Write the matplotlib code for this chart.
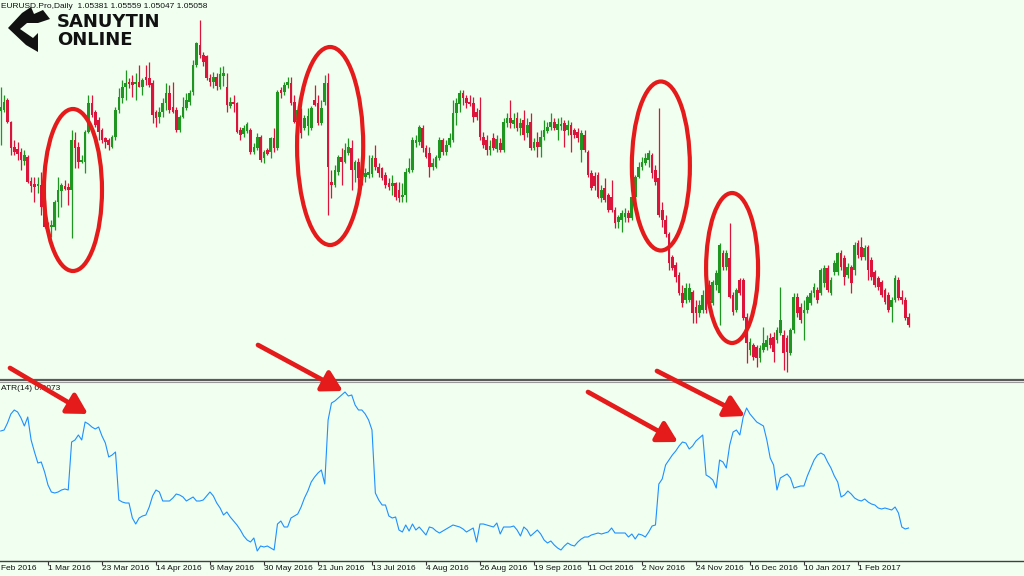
import numpy as np
import matplotlib
matplotlib.use("Agg")
import matplotlib.pyplot as plt
from matplotlib.patches import Ellipse, Polygon, FancyArrowPatch

# EURUSD daily candles; bar 0 = 8 Feb 2016, first visible bar = 2
first_bar = 2
opens = [
    1.1346, 1.1350, 1.1390, 1.1302, 1.1202, 1.1194, 1.1182, 1.1146, 1.1162, 1.1066,
    1.1054, 1.1046, 1.1050, 1.0978, 1.0898, 1.0882, 1.0882, 1.0982, 1.1026, 1.1046,
    1.1042, 1.1030, 1.1230, 1.1202, 1.1142, 1.1142, 1.1262, 1.1378, 1.1342, 1.1310,
    1.1270, 1.1238, 1.1230, 1.1202, 1.1242, 1.1350, 1.1398, 1.1442, 1.1462, 1.1462,
    1.1454, 1.1462, 1.1442, 1.1482, 1.1478, 1.1458, 1.1342, 1.1322, 1.1342, 1.1378,
    1.1418, 1.1362, 1.1350, 1.1270, 1.1322, 1.1358, 1.1382, 1.1422, 1.1530, 1.1610,
    1.1570, 1.1566, 1.1478, 1.1462, 1.1482, 1.1442, 1.1486, 1.1442, 1.1366, 1.1382,
    1.1378, 1.1270, 1.1254, 1.1266, 1.1270, 1.1182, 1.1198, 1.1242, 1.1158, 1.1190,
    1.1182, 1.1238, 1.1198, 1.1430, 1.1422, 1.1450, 1.1458, 1.1382, 1.1310, 1.1350,
    1.1278, 1.1286, 1.1278, 1.1390, 1.1378, 1.1298, 1.1382, 1.1458, 1.1062, 1.1050,
    1.1102, 1.1162, 1.1142, 1.1178, 1.1198, 1.1110, 1.1142, 1.1102, 1.1082, 1.1090,
    1.1094, 1.1158, 1.1122, 1.1118, 1.1090, 1.1058, 1.1046, 1.1058, 1.1030, 1.1002,
    1.1010, 1.1102, 1.1110, 1.1218, 1.1222, 1.1278, 1.1198, 1.1178, 1.1122, 1.1122,
    1.1158, 1.1230, 1.1182, 1.1210, 1.1230, 1.1338, 1.1374, 1.1418, 1.1398, 1.1382,
    1.1378, 1.1342, 1.1350, 1.1242, 1.1230, 1.1190, 1.1238, 1.1194, 1.1218, 1.1190,
    1.1298, 1.1318, 1.1294, 1.1318, 1.1278, 1.1310, 1.1258, 1.1302, 1.1198, 1.1222,
    1.1202, 1.1242, 1.1266, 1.1282, 1.1302, 1.1270, 1.1286, 1.1298, 1.1270, 1.1290,
    1.1270, 1.1262, 1.1190, 1.1250, 1.1182, 1.1098, 1.1086, 1.1090, 1.0998, 1.1038,
    1.1010, 1.1002, 1.0950, 1.0902, 1.0910, 1.0922, 1.0938, 1.0918, 1.1002, 1.1082,
    1.1122, 1.1138, 1.1150, 1.1170, 1.1110, 1.1078, 1.0950, 1.0910, 1.0854, 1.0762,
    1.0730, 1.0690, 1.0618, 1.0590, 1.0590, 1.0622, 1.0562, 1.0538, 1.0550, 1.0642,
    1.0650, 1.0578, 1.0650, 1.0618, 1.0778, 1.0722, 1.0758, 1.0610, 1.0550, 1.0670,
    1.0670, 1.0522, 1.0390, 1.0410, 1.0402, 1.0358, 1.0390, 1.0402, 1.0438, 1.0442,
    1.0430, 1.0458, 1.0450, 1.0438, 1.0378, 1.0470, 1.0602, 1.0562, 1.0538, 1.0550,
    1.0578, 1.0618, 1.0630, 1.0618, 1.0658, 1.0718, 1.0618, 1.0702, 1.0702, 1.0778,
    1.0758, 1.0690, 1.0722, 1.0710, 1.0818, 1.0802, 1.0762, 1.0802, 1.0750, 1.0702,
    1.0678, 1.0662, 1.0630, 1.0610, 1.0562, 1.0590, 1.0670, 1.0602, 1.0590, 1.0522,
]
highs = [
    1.1442, 1.1410, 1.1398, 1.1306, 1.1230, 1.1222, 1.1198, 1.1190, 1.1170, 1.1082,
    1.1082, 1.1082, 1.1102, 1.0990, 1.0902, 1.0910, 1.0990, 1.1082, 1.1058, 1.1070,
    1.1058, 1.1270, 1.1262, 1.1222, 1.1170, 1.1270, 1.1410, 1.1410, 1.1350, 1.1322,
    1.1278, 1.1242, 1.1238, 1.1250, 1.1362, 1.1438, 1.1470, 1.1510, 1.1478, 1.1490,
    1.1498, 1.1530, 1.1478, 1.1530, 1.1542, 1.1470, 1.1350, 1.1362, 1.1398, 1.1458,
    1.1450, 1.1462, 1.1362, 1.1330, 1.1402, 1.1418, 1.1430, 1.1550, 1.1622, 1.1710,
    1.1582, 1.1570, 1.1494, 1.1502, 1.1498, 1.1522, 1.1526, 1.1498, 1.1402, 1.1410,
    1.1382, 1.1282, 1.1290, 1.1302, 1.1278, 1.1218, 1.1258, 1.1250, 1.1190, 1.1198,
    1.1242, 1.1278, 1.1430, 1.1442, 1.1462, 1.1482, 1.1482, 1.1410, 1.1370, 1.1358,
    1.1330, 1.1358, 1.1366, 1.1450, 1.1410, 1.1390, 1.1490, 1.1498, 1.1110, 1.1130,
    1.1170, 1.1198, 1.1218, 1.1238, 1.1230, 1.1150, 1.1158, 1.1118, 1.1118, 1.1170,
    1.1170, 1.1210, 1.1138, 1.1122, 1.1102, 1.1078, 1.1090, 1.1062, 1.1062, 1.1058,
    1.1118, 1.1158, 1.1242, 1.1250, 1.1290, 1.1290, 1.1210, 1.1202, 1.1158, 1.1170,
    1.1242, 1.1238, 1.1230, 1.1258, 1.1390, 1.1398, 1.1430, 1.1430, 1.1410, 1.1410,
    1.1402, 1.1358, 1.1402, 1.1262, 1.1250, 1.1230, 1.1258, 1.1250, 1.1238, 1.1318,
    1.1338, 1.1390, 1.1338, 1.1342, 1.1318, 1.1350, 1.1318, 1.1338, 1.1238, 1.1262,
    1.1270, 1.1310, 1.1302, 1.1338, 1.1318, 1.1318, 1.1322, 1.1310, 1.1310, 1.1302,
    1.1278, 1.1278, 1.1270, 1.1270, 1.1190, 1.1110, 1.1102, 1.1102, 1.1050, 1.1078,
    1.1018, 1.1070, 1.0962, 1.0930, 1.0950, 1.0958, 1.0950, 1.1018, 1.1090, 1.1142,
    1.1162, 1.1178, 1.1190, 1.1178, 1.1130, 1.1358, 1.0982, 1.0930, 1.0862, 1.0770,
    1.0742, 1.0702, 1.0650, 1.0658, 1.0658, 1.0630, 1.0590, 1.0590, 1.0630, 1.0658,
    1.0670, 1.0670, 1.0710, 1.0818, 1.0790, 1.0790, 1.0898, 1.0622, 1.0638, 1.0678,
    1.0678, 1.0538, 1.0438, 1.0418, 1.0410, 1.0410, 1.0482, 1.0450, 1.0458, 1.0462,
    1.0482, 1.0642, 1.0470, 1.0450, 1.0478, 1.0618, 1.0618, 1.0578, 1.0590, 1.0610,
    1.0630, 1.0658, 1.0642, 1.0718, 1.0730, 1.0730, 1.0682, 1.0750, 1.0782, 1.0790,
    1.0770, 1.0738, 1.0730, 1.0822, 1.0830, 1.0842, 1.0810, 1.0810, 1.0762, 1.0710,
    1.0686, 1.0670, 1.0638, 1.0622, 1.0602, 1.0690, 1.0682, 1.0630, 1.0602, 1.0538,
]
lows = [
    1.1210, 1.1342, 1.1298, 1.1170, 1.1170, 1.1150, 1.1110, 1.1130, 1.1058, 1.1022,
    1.0982, 1.1018, 1.0930, 1.0878, 1.0862, 1.0842, 1.0870, 1.0922, 1.0962, 1.1030,
    1.0970, 1.0838, 1.1118, 1.1118, 1.1138, 1.1098, 1.1258, 1.1322, 1.1282, 1.1230,
    1.1218, 1.1198, 1.1190, 1.1198, 1.1230, 1.1338, 1.1378, 1.1390, 1.1438, 1.1402,
    1.1390, 1.1442, 1.1410, 1.1450, 1.1442, 1.1298, 1.1282, 1.1298, 1.1322, 1.1350,
    1.1338, 1.1338, 1.1262, 1.1262, 1.1318, 1.1350, 1.1370, 1.1410, 1.1522, 1.1558,
    1.1526, 1.1470, 1.1446, 1.1438, 1.1430, 1.1434, 1.1446, 1.1342, 1.1358, 1.1342,
    1.1258, 1.1230, 1.1242, 1.1258, 1.1174, 1.1174, 1.1190, 1.1142, 1.1138, 1.1170,
    1.1158, 1.1182, 1.1190, 1.1398, 1.1410, 1.1438, 1.1370, 1.1298, 1.1290, 1.1238,
    1.1270, 1.1250, 1.1270, 1.1366, 1.1290, 1.1290, 1.1370, 1.0930, 1.0998, 1.1042,
    1.1090, 1.1050, 1.1138, 1.1170, 1.1030, 1.1062, 1.1030, 1.1050, 1.1062, 1.1078,
    1.1082, 1.1110, 1.1082, 1.1070, 1.1038, 1.1030, 1.1010, 1.0990, 1.0982, 1.0982,
    1.0982, 1.1098, 1.1102, 1.1202, 1.1210, 1.1182, 1.1158, 1.1082, 1.1110, 1.1118,
    1.1150, 1.1170, 1.1170, 1.1202, 1.1222, 1.1290, 1.1342, 1.1370, 1.1358, 1.1366,
    1.1302, 1.1310, 1.1230, 1.1198, 1.1170, 1.1170, 1.1190, 1.1182, 1.1182, 1.1182,
    1.1282, 1.1278, 1.1278, 1.1266, 1.1250, 1.1230, 1.1242, 1.1190, 1.1190, 1.1162,
    1.1162, 1.1230, 1.1258, 1.1270, 1.1270, 1.1230, 1.1270, 1.1202, 1.1250, 1.1182,
    1.1238, 1.1222, 1.1142, 1.1182, 1.1082, 1.1030, 1.1030, 1.0998, 1.0982, 1.0982,
    1.0942, 1.0942, 1.0878, 1.0878, 1.0862, 1.0902, 1.0902, 1.0910, 1.0990, 1.1078,
    1.1110, 1.1130, 1.1122, 1.1078, 1.1050, 1.0922, 1.0882, 1.0842, 1.0710, 1.0710,
    1.0662, 1.0610, 1.0562, 1.0578, 1.0582, 1.0498, 1.0498, 1.0522, 1.0538, 1.0538,
    1.0578, 1.0570, 1.0630, 1.0490, 1.0710, 1.0710, 1.0598, 1.0530, 1.0542, 1.0610,
    1.0510, 1.0338, 1.0370, 1.0350, 1.0322, 1.0342, 1.0382, 1.0390, 1.0398, 1.0342,
    1.0418, 1.0450, 1.0310, 1.0302, 1.0370, 1.0458, 1.0522, 1.0498, 1.0430, 1.0538,
    1.0570, 1.0602, 1.0578, 1.0610, 1.0642, 1.0622, 1.0610, 1.0690, 1.0690, 1.0710,
    1.0650, 1.0678, 1.0618, 1.0690, 1.0758, 1.0750, 1.0750, 1.0670, 1.0670, 1.0642,
    1.0630, 1.0602, 1.0574, 1.0542, 1.0502, 1.0582, 1.0590, 1.0574, 1.0510, 1.0482,
]
closes = [
    1.1362, 1.1382, 1.1302, 1.1198, 1.1182, 1.1174, 1.1150, 1.1170, 1.1062, 1.1046,
    1.1042, 1.1054, 1.0962, 1.0882, 1.0878, 1.0890, 1.0982, 1.1030, 1.1050, 1.1034,
    1.1030, 1.1230, 1.1198, 1.1142, 1.1150, 1.1262, 1.1378, 1.1330, 1.1290, 1.1262,
    1.1230, 1.1222, 1.1210, 1.1242, 1.1350, 1.1402, 1.1442, 1.1458, 1.1454, 1.1450,
    1.1462, 1.1442, 1.1470, 1.1470, 1.1450, 1.1330, 1.1318, 1.1342, 1.1378, 1.1418,
    1.1350, 1.1342, 1.1270, 1.1322, 1.1362, 1.1390, 1.1418, 1.1530, 1.1618, 1.1570,
    1.1542, 1.1478, 1.1462, 1.1482, 1.1446, 1.1494, 1.1498, 1.1370, 1.1382, 1.1374,
    1.1262, 1.1250, 1.1278, 1.1294, 1.1182, 1.1202, 1.1242, 1.1150, 1.1182, 1.1174,
    1.1238, 1.1198, 1.1422, 1.1418, 1.1450, 1.1462, 1.1378, 1.1302, 1.1350, 1.1258,
    1.1318, 1.1326, 1.1358, 1.1370, 1.1298, 1.1358, 1.1458, 1.1122, 1.1050, 1.1110,
    1.1162, 1.1142, 1.1190, 1.1202, 1.1110, 1.1142, 1.1078, 1.1082, 1.1098, 1.1102,
    1.1158, 1.1122, 1.1098, 1.1078, 1.1050, 1.1042, 1.1058, 1.1002, 1.0998, 1.1010,
    1.1102, 1.1118, 1.1230, 1.1230, 1.1282, 1.1198, 1.1162, 1.1122, 1.1138, 1.1162,
    1.1230, 1.1182, 1.1210, 1.1238, 1.1338, 1.1378, 1.1418, 1.1398, 1.1378, 1.1374,
    1.1322, 1.1322, 1.1242, 1.1210, 1.1190, 1.1206, 1.1198, 1.1234, 1.1190, 1.1302,
    1.1318, 1.1298, 1.1310, 1.1278, 1.1298, 1.1250, 1.1290, 1.1198, 1.1222, 1.1202,
    1.1242, 1.1270, 1.1282, 1.1302, 1.1278, 1.1294, 1.1294, 1.1266, 1.1290, 1.1250,
    1.1250, 1.1238, 1.1258, 1.1190, 1.1090, 1.1038, 1.1046, 1.1002, 1.1030, 1.0990,
    1.0950, 1.0950, 1.0898, 1.0922, 1.0938, 1.0938, 1.0918, 1.1002, 1.1082, 1.1122,
    1.1142, 1.1158, 1.1178, 1.1098, 1.1062, 1.0930, 1.0910, 1.0854, 1.0738, 1.0718,
    1.0682, 1.0618, 1.0578, 1.0638, 1.0638, 1.0538, 1.0538, 1.0570, 1.0610, 1.0550,
    1.0590, 1.0662, 1.0698, 1.0810, 1.0722, 1.0778, 1.0602, 1.0542, 1.0630, 1.0618,
    1.0518, 1.0418, 1.0422, 1.0362, 1.0358, 1.0398, 1.0418, 1.0430, 1.0410, 1.0382,
    1.0470, 1.0510, 1.0378, 1.0382, 1.0470, 1.0602, 1.0538, 1.0510, 1.0550, 1.0602,
    1.0618, 1.0642, 1.0590, 1.0710, 1.0718, 1.0630, 1.0670, 1.0738, 1.0778, 1.0722,
    1.0682, 1.0722, 1.0658, 1.0810, 1.0770, 1.0762, 1.0798, 1.0710, 1.0682, 1.0650,
    1.0642, 1.0610, 1.0582, 1.0550, 1.0590, 1.0678, 1.0598, 1.0590, 1.0518, 1.0490,
]
# ATR(14), in pips
atr14_pips = [
    121.5, 122, 125.5, 130, 132, 131, 128, 124, 128.5, 117,
    111, 105.5, 106, 101, 94.5, 91, 90.5, 91, 92, 92.5,
    92, 116, 117, 119.5, 117, 126, 125, 123.5, 122.5, 123.5,
    119, 115.5, 108.5, 109.5, 111, 87, 86, 85.5, 85.5, 78,
    75, 78, 79, 79.5, 83.5, 89, 92, 91, 86.5, 86.5,
    86.5, 88, 90, 89.5, 88.5, 86.5, 87.5, 88.5, 86.5, 86.5,
    87, 89, 91, 89, 85.5, 83, 79.5, 81, 78.5, 76.5,
    74.5, 72, 69, 67, 66, 68, 61.5, 64, 63.5, 64,
    63, 62, 75, 76.5, 73.5, 73.5, 78, 79, 80, 83.5,
    88, 91.5, 96, 98.5, 100.5, 102, 95, 127, 135.5, 136.5,
    138, 139.5, 141, 139, 139.5, 134.5, 132, 132, 130, 127,
    122, 90.5, 87, 84.5, 84.5, 79, 78, 78.5, 72, 71,
    74.5, 71.5, 75, 72, 73.5, 71.5, 69.5, 73.5, 73, 71.5,
    70.5, 71.5, 72.5, 73.5, 74.5, 74, 73.5, 72.5, 71, 72,
    73, 66, 75, 75, 74.5, 74, 73.5, 75.5, 70, 73.5,
    73.5, 73.5, 74, 72, 69, 73.5, 72, 69, 70.5, 72,
    70, 67, 65.5, 66.5, 64.5, 63, 62, 64, 65.5, 64.5,
    64, 66, 67.5, 68.5, 68.5, 69.5, 70, 70.5, 70, 70.5,
    71, 73, 70.5, 70.5, 70.5, 70.5, 68.5, 70, 67.5, 70,
    69.5, 68.5, 71, 74, 74.5, 95, 97.5, 104.5, 107, 109.5,
    111.5, 114, 116, 115.5, 112.5, 114, 116.5, 118, 119.5, 99.5,
    98.5, 97, 93, 107, 106, 103, 114.5, 121, 122, 119.5,
    128.5, 133, 130, 128, 126, 125, 124, 117, 108, 104.5,
    92, 98, 99, 100, 98, 93, 93.5, 94, 94, 99,
    103, 107, 109.5, 110.5, 109.5, 106, 103, 99, 96, 88.5,
    89.5, 91.5, 90, 88, 87, 86.5, 87.5, 86, 85, 84.5,
    83, 82.5, 83, 82.5, 82, 83.5, 80.5, 73.5, 72.5, 73,
]

label_bars = [0, 16, 32, 48, 64, 80, 96, 112, 128, 144, 160, 176, 192, 208, 224, 240, 256]
# the first label ("8 Feb 2016") runs off the left edge; only its visible part is kept
date_labels = ["Feb 2016", "1 Mar 2016", "23 Mar 2016", "14 Apr 2016", "6 May 2016",
               "30 May 2016", "21 Jun 2016", "13 Jul 2016", "4 Aug 2016", "26 Aug 2016",
               "19 Sep 2016", "11 Oct 2016", "2 Nov 2016", "24 Nov 2016", "16 Dec 2016",
               "10 Jan 2017", "1 Feb 2017"]

# red circles drawn over the candles (bar, price, width in bars, height in price)
circle_bars = [23.4, 99.6, 197.6, 218.7]
circle_prices = [1.1030, 1.1206, 1.1126, 1.0718]
circle_widths = [17.2, 19.6, 17.2, 15.4]
circle_heights = [0.0648, 0.0792, 0.0676, 0.0600]

BG = "#f0fff0"
BULL = "#1f961f"
BEAR = "#dc143c"
RED = "#e51b1b"
W, H = 1024, 576
XMIN, XMAX = 1.78, 305.2

fig = plt.figure(figsize=(10.24, 5.76), dpi=100, facecolor=BG)
ax = fig.add_axes([0, 1 - 380 / H, 1, 380 / H], facecolor=BG)
ax2 = fig.add_axes([0, 1 - 561 / H, 1, 179 / H], facecolor=BG)

x = np.arange(first_bar, first_bar + len(closes))
o = np.array(opens)
c = np.array(closes)
hi = np.array(highs)
lo = np.array(lows)
cols = np.where(c >= o, BULL, BEAR)

ax.vlines(x, lo, hi, colors=cols, linewidth=0.9, zorder=2)
ax.bar(x, np.maximum(np.abs(c - o), 0.0003), bottom=np.minimum(o, c), width=0.8,
       color=cols, linewidth=0, zorder=3)

for bx, py, bw, ph in zip(circle_bars, circle_prices, circle_widths, circle_heights):
    ax.add_patch(Ellipse((bx, py), bw, ph, fill=False, edgecolor=RED, linewidth=3.0, zorder=6))

ax.set_xlim(XMIN, XMAX)
ax.set_ylim(1.0270, 1.1790)
ax.set_xticks([])
ax.set_yticks([])
for s in ["top", "left", "right"]:
    ax.spines[s].set_visible(False)
ax.spines["bottom"].set_color("#5a5a5a")
ax.spines["bottom"].set_linewidth(1.6)

# ATR panel
ax2.plot(x, np.array(atr14_pips) / 10000, color="#1e90ff", linewidth=0.8)
ax2.set_xlim(XMIN, XMAX)
ax2.set_ylim(0.00565, 0.0146)
ax2.set_yticks([])
ax2.set_xticks(label_bars[1:])
ax2.tick_params(axis="x", direction="out", length=3, width=0.8, color="#333333",
                labelbottom=False)
for s in ["left", "right"]:
    ax2.spines[s].set_visible(False)
ax2.spines["top"].set_color("#9a9a9a")
ax2.spines["top"].set_linewidth(0.8)
ax2.spines["bottom"].set_color("#404040")
ax2.spines["bottom"].set_linewidth(1.0)

for b, lab in zip(label_bars, date_labels):
    ax2.text(max(b, XMIN + 0.3), -0.025, lab, transform=ax2.get_xaxis_transform(),
             ha="left", va="top", fontsize=6, family="Liberation Sans", color="#111111",
             clip_on=False)

fig.text(1 / W, 1 - 3 / H, "EURUSD.Pro,Daily  1.05381 1.05559 1.05047 1.05058",
         ha="left", va="top", fontsize=6, family="Liberation Sans", color="#111111")
fig.text(1 / W, 1 - 385 / H, "ATR(14) 0.0073", ha="left", va="top", fontsize=6,
         family="Liberation Sans", color="#111111")


def px(xp, yp):
    return (xp / W, 1 - yp / H)


# red arrows pointing at the ATR peaks
arrow_paths = [((10, 368), (88, 414)), ((258, 345), (343, 391)),
               ((588, 392), (678, 442)), ((657, 371), (745, 416))]
for p0, p1 in arrow_paths:
    fig.add_artist(FancyArrowPatch(px(*p0), px(*p1), transform=fig.transFigure,
                                   arrowstyle="-|>,head_length=0.6,head_width=0.34",
                                   mutation_scale=20, linewidth=3.4, color=RED,
                                   shrinkA=0, shrinkB=0, zorder=10))

# logo
logo_pts = [(8, 28), (22, 13), (31, 7), (34, 14), (43, 10), (50, 19), (38, 23), (27, 23),
            (20, 29), (33, 38), (38, 33), (38, 52), (26, 45)]
fig.add_artist(Polygon([px(a, b) for a, b in logo_pts], closed=True,
                       transform=fig.transFigure, facecolor="#111111",
                       edgecolor="none", zorder=11))
fig.text(57 / W, 1 - 13 / H, "SANUYTIN", ha="left", va="top", fontsize=13,
         fontweight="bold", color="#111111", zorder=11)
fig.text(57 / W, 1 - 31 / H, "ONLINE", ha="left", va="top", fontsize=13,
         fontweight="bold", color="#111111", zorder=11)

fig.savefig("out.png", dpi=100, facecolor=BG)
